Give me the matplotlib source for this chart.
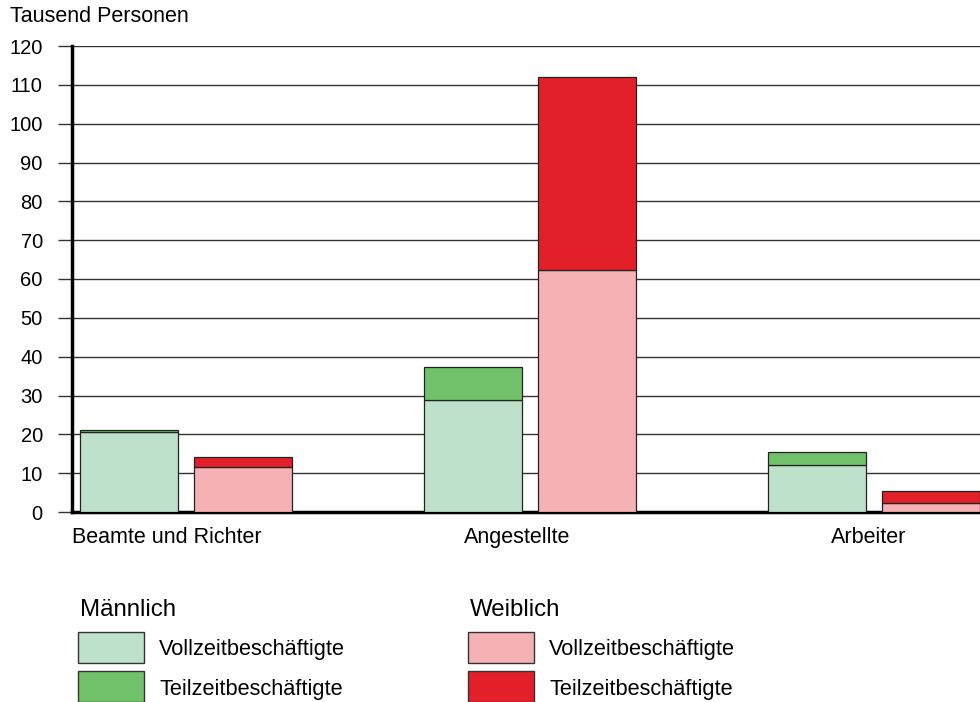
import matplotlib
matplotlib.use('Agg')
import matplotlib.pyplot as plt
from matplotlib.patches import Rectangle
import numpy as np

plt.rcParams['font.family'] = ['Liberation Sans', 'DejaVu Sans']

# Daten (Tausend Personen)
gruppen = ['Beamte und Richter', 'Angestellte', 'Arbeiter']
m_voll = [20.5, 28.8, 12.1]
m_teil = [0.5, 8.5, 3.4]
w_voll = [11.7, 62.3, 2.3]
w_teil = [2.5, 49.7, 3.2]
y_ticks = list(range(0, 121, 10))

# Farben
C_M_VOLL = '#bde1cb'
C_M_TEIL = '#70c16a'
C_W_VOLL = '#f6b1b4'
C_W_TEIL = '#e3202a'

W, H = 980, 702
fig = plt.figure(figsize=(W / 100, H / 100), dpi=100)

def fx(px):
    return px / W

def fy(py):
    return 1 - py / H

ax = fig.add_axes([fx(72), fy(512), fx(980) - fx(72), fy(46) - fy(512)])

x = np.arange(len(gruppen))
breite = 0.285
off = 0.166
kw = dict(width=breite, edgecolor='#222222', linewidth=0.9, zorder=3)
ax.bar(x - off, m_voll, color=C_M_VOLL, **kw)
ax.bar(x - off, m_teil, bottom=m_voll, color=C_M_TEIL, **kw)
ax.bar(x + off, w_voll, color=C_W_VOLL, **kw)
ax.bar(x + off, w_teil, bottom=w_voll, color=C_W_TEIL, **kw)

ax.set_ylim(0, 120)
ax.set_xlim(-0.331, 2.308)
ax.set_yticks(y_ticks)
ax.set_yticklabels([str(v) for v in y_ticks], fontsize=14.5)
ax.yaxis.grid(True, color='#333333', linewidth=1.0, zorder=0)
ax.tick_params(axis='y', length=10, width=1.0, color='#333333', pad=11)
ax.set_xticks([])

for s in ['top', 'right']:
    ax.spines[s].set_visible(False)
for s in ['left', 'bottom']:
    ax.spines[s].set_linewidth(2.5)
    ax.spines[s].set_color('black')

# Gruppenbeschriftungen
label_x = [-0.055, 0.962, 1.985]
for lx, g in zip(label_x, gruppen):
    ax.text(lx, -6.5, g, ha='center', va='center', fontsize=15.5, clip_on=False)

fig.text(fx(10), fy(17), 'Tausend Personen', ha='left', va='center', fontsize=15.5)

# Legende
def legend_block(x0, titel, farben, texte):
    fig.text(fx(x0 + 2), fy(610), titel, ha='left', va='center', fontsize=17.3)
    for i, (c, t) in enumerate(zip(farben, texte)):
        top = 632 + i * 39
        fig.add_artist(Rectangle((fx(x0), fy(top + 31)), fx(66), 31 / H,
                                 transform=fig.transFigure, facecolor=c,
                                 edgecolor='#333333', linewidth=1.0))
        fig.text(fx(x0 + 81), fy(top + 17 + 2 * i), t, ha='left', va='center', fontsize=15.7)

legend_block(78, 'Männlich', [C_M_VOLL, C_M_TEIL],
             ['Vollzeitbeschäftigte', 'Teilzeitbeschäftigte'])
legend_block(468, 'Weiblich', [C_W_VOLL, C_W_TEIL],
             ['Vollzeitbeschäftigte', 'Teilzeitbeschäftigte'])

fig.savefig('out.png', dpi=100, facecolor='white')
